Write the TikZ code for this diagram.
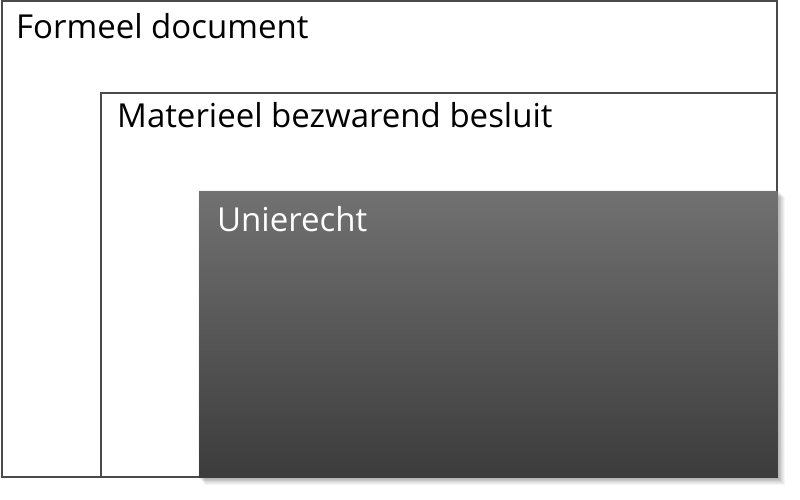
\documentclass[tikz,border=0pt]{standalone}
\usepackage{fontspec}
\setmainfont{Open Sans}
\definecolor{linegray}{HTML}{4A4A4A}
\definecolor{gradtop}{HTML}{717171}
\definecolor{gradbot}{HTML}{3C3C3C}
\tikzset{
  frame/.style={draw=linegray, line width=2pt, fill=white},
  lbl/.style={anchor=base west, inner sep=0pt, font=\fontsize{33}{40}\selectfont},
}
\begin{document}
\begin{tikzpicture}[x=1pt,y=-1pt]
\useasboundingbox (0,0) rectangle (800,500);
\fill[white] (0,0) rectangle (800,500);
\draw[frame] (1.5,1.5) rectangle (776.5,476.5);
\draw[frame] (101,93) rectangle (776.5,476.5);
% shadow
\foreach \i in {1,...,10} {
  \fill[black, opacity=0.04] (197+\i*0.8,189+\i*0.8) rectangle (776+\i*0.9,476+\i*0.9);
}
\shade[top color=gradtop, bottom color=gradbot] (199,191) rectangle (777.5,477.5);
\node[lbl] (formeel) at (16,39) {Formeel document};
\node[lbl] (materieel) at (117,128) {Materieel bezwarend besluit};
\node[lbl, text=white] (unie) at (217,231) {Unierecht};
\end{tikzpicture}
\end{document}
